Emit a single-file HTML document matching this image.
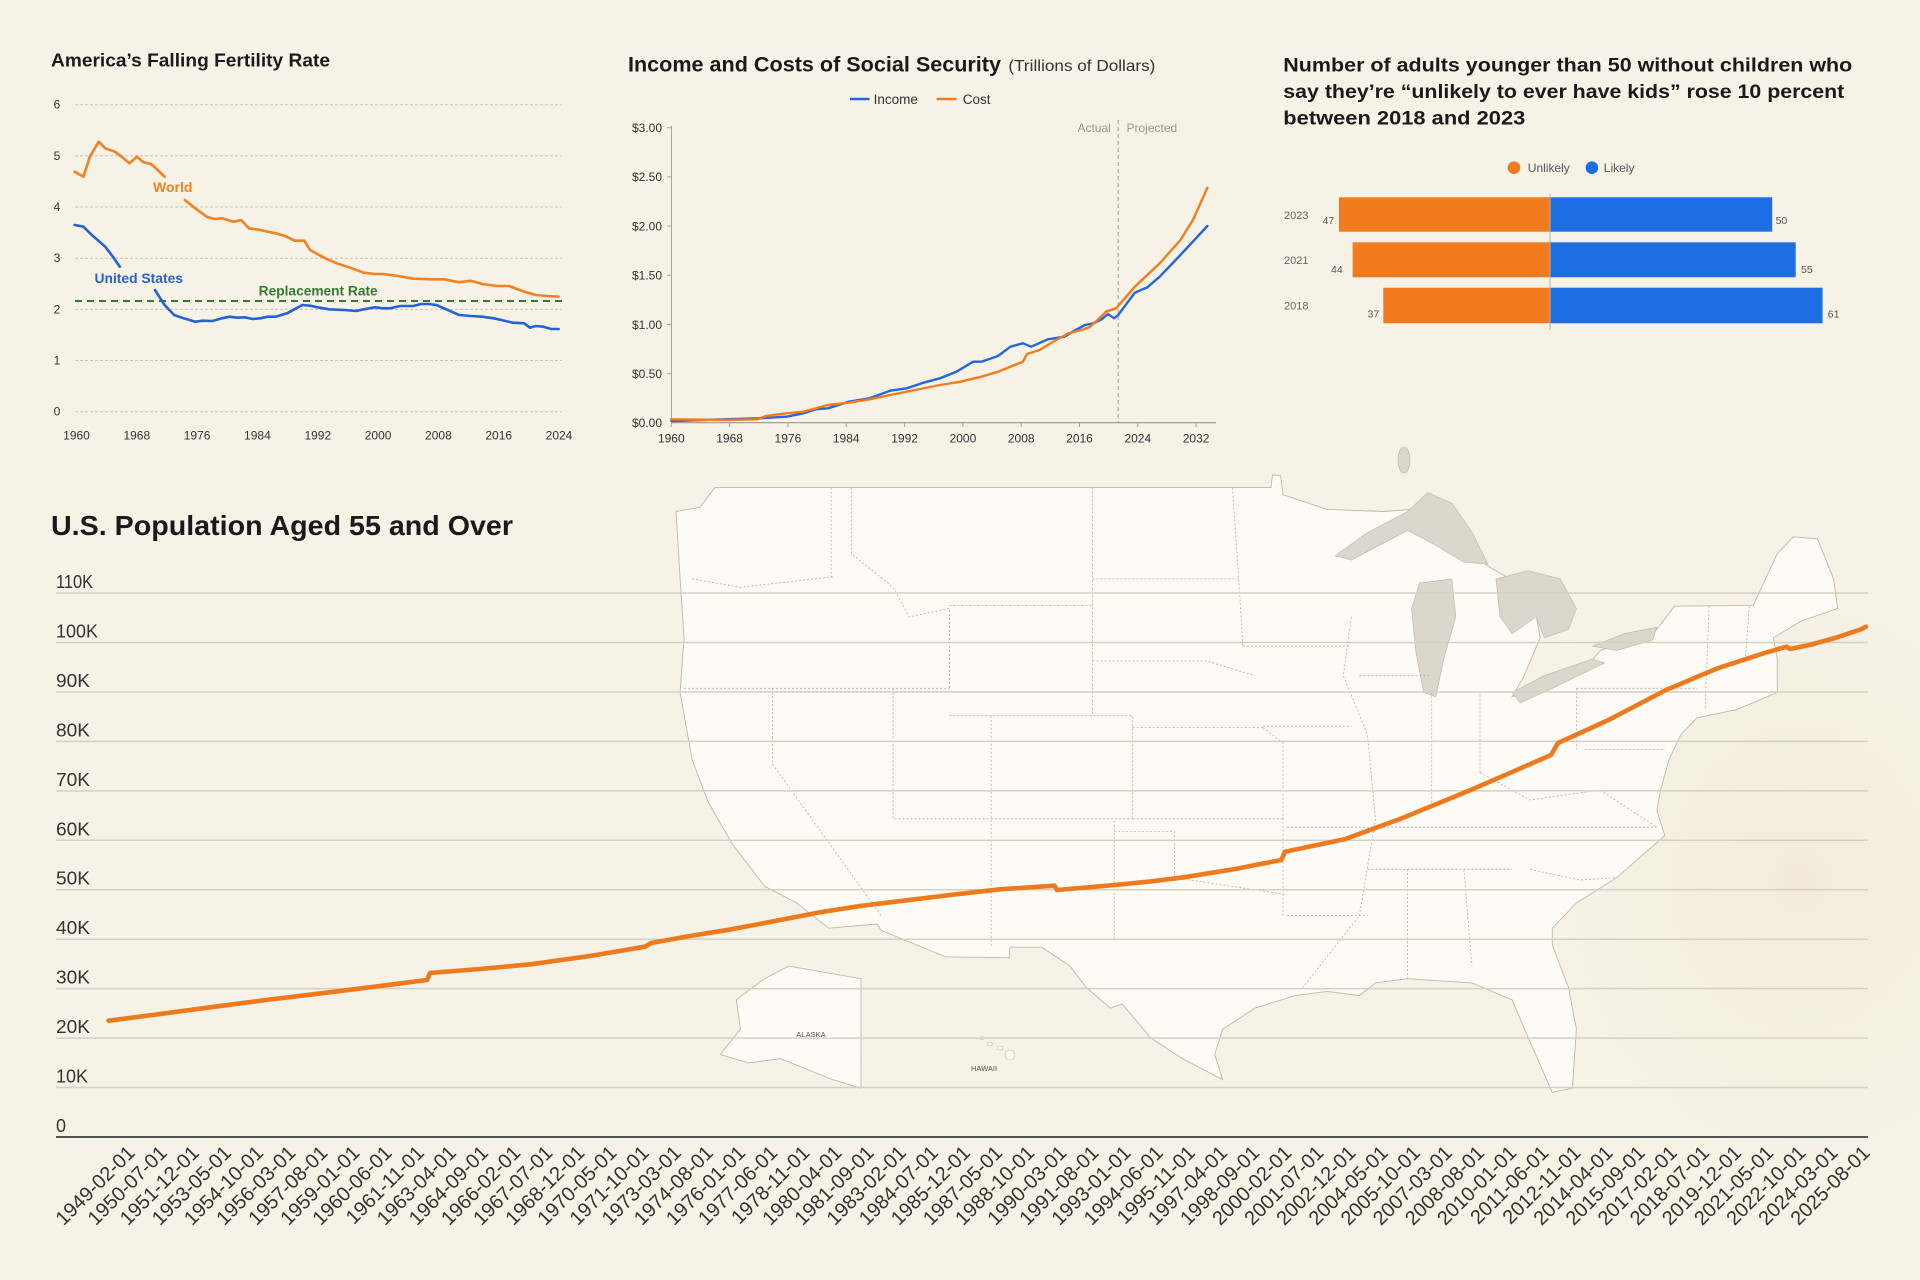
<!DOCTYPE html>
<html>
<head>
<meta charset="utf-8">
<style>
html,body{margin:0;padding:0;background:#f7f2e6;}
body{width:1920px;height:1280px;overflow:hidden;}
svg{display:block;}
text{font-family:"Liberation Sans",Arial,sans-serif;}
</style>
</head>
<body>
<svg width="1920" height="1280" viewBox="0 0 1920 1280" xmlns="http://www.w3.org/2000/svg">
<defs>
<radialGradient id="eastg" cx="0.5" cy="0.5" r="0.5">
<stop offset="0" stop-color="#f1e7d4" stop-opacity="0.7"/>
<stop offset="1" stop-color="#f7f2e6" stop-opacity="0"/>
</radialGradient>
</defs>
<rect x="0" y="0" width="1920" height="1280" fill="#f7f2e6"/>

<!-- ============ CHART 1: Fertility ============ -->
<text x="51" y="66.5" font-size="18.5" font-weight="bold" fill="#1a1a1a" textLength="279" lengthAdjust="spacingAndGlyphs">America’s Falling Fertility Rate</text>
<g stroke="#c9c3b6" stroke-width="1" stroke-dasharray="3,2">
<line x1="75" y1="104.7" x2="562" y2="104.7"/>
<line x1="75" y1="155.9" x2="562" y2="155.9"/>
<line x1="75" y1="207" x2="562" y2="207"/>
<line x1="75" y1="258.2" x2="562" y2="258.2"/>
<line x1="75" y1="309.4" x2="562" y2="309.4"/>
<line x1="75" y1="360.5" x2="562" y2="360.5"/>
<line x1="75" y1="411.7" x2="562" y2="411.7"/>
</g>
<g font-size="12" fill="#333" text-anchor="middle">
<text x="57" y="108.7">6</text>
<text x="57" y="159.9">5</text>
<text x="57" y="211">4</text>
<text x="57" y="262.2">3</text>
<text x="57" y="313.4">2</text>
<text x="57" y="364.5">1</text>
<text x="57" y="415.7">0</text>
<text x="76.5" y="439.5">1960</text>
<text x="136.8" y="439.5">1968</text>
<text x="197.1" y="439.5">1976</text>
<text x="257.4" y="439.5">1984</text>
<text x="317.8" y="439.5">1992</text>
<text x="378.1" y="439.5">2000</text>
<text x="438.4" y="439.5">2008</text>
<text x="498.7" y="439.5">2016</text>
<text x="559" y="439.5">2024</text>
</g>
<line x1="75" y1="301" x2="562" y2="301" stroke="#2e7d32" stroke-width="2" stroke-dasharray="7,5"/>
<g fill="none" stroke-width="2.6" stroke-linejoin="round" stroke-linecap="round">
<polyline stroke="#f08124" points="74.6,171.7 83.4,176.7 89.9,156.7 98.7,141.7 105.2,148.3 114.8,151.7 121.7,156.7 129.4,163.3 137,156.7 143.5,162.3 151.2,164 164.6,176.7"/>
<polyline stroke="#f08124" points="184.8,200 195.2,208.3 206.7,216.7 214.3,219 222,218.3 233.4,221.7 241.1,220 248.8,228.3 260.2,230 275.5,233.3 285.1,236 294.7,240.7 304.3,240.7 310,250 325.3,258.3 336.8,263.3 352.1,268.3 363.6,272.7 375,274 382.7,274 398,276 413.3,278.7 432.5,279.3 444,279.3 459.3,282.3 470.7,280.7 482.2,284 489.9,285 497.5,286 509,286 524.3,291.7 535.8,295 547.3,296 558.7,296.7"/>
<polyline stroke="#2463d4" points="74.6,225 83.4,226.7 91.8,235 99.5,241.7 105.2,246.7 112.9,256.7 119.8,266.7"/>
<polyline stroke="#2463d4" points="155,290 164.6,305 174.1,315 183.7,318.3 195.2,321.7 202.8,320.7 212.4,321 222,318.3 229.6,316.7 237.3,317.7 244.9,317.3 252.6,319 260.2,318.3 267.9,316.7 275.5,316.7 287,313.3 302.3,305 310,305.7 317.6,307.3 329.1,309.3 344.4,310 355.9,311 363.6,309.3 375,307.3 382.7,308.3 390.3,308.3 399.9,306 413.3,306 420.9,304 428.6,304 436.3,305 451.6,311.7 459.3,315 470.7,316 482.2,316.7 493.7,318.3 501.3,320 512.8,322.7 524.3,323.3 530,327.7 535.8,326 543.4,326.7 551.1,329 558.7,329"/>
</g>
<text x="153" y="192" font-size="14" font-weight="bold" fill="#f08124">World</text>
<text x="94.5" y="283" font-size="14" font-weight="bold" fill="#2463d4" textLength="88.5" lengthAdjust="spacingAndGlyphs">United States</text>
<text x="258.7" y="295.5" font-size="13.5" font-weight="bold" fill="#2e7d32" textLength="119" lengthAdjust="spacingAndGlyphs">Replacement Rate</text>

<!-- ============ CHART 2: Social Security ============ -->
<text x="628" y="71.5" font-size="21.5" font-weight="bold" fill="#1a1a1a" textLength="373" lengthAdjust="spacingAndGlyphs">Income and Costs of Social Security</text>
<text x="1008.4" y="71" font-size="16" fill="#333" textLength="147" lengthAdjust="spacingAndGlyphs">(Trillions of Dollars)</text>
<line x1="850" y1="99" x2="869.5" y2="99" stroke="#2567db" stroke-width="2.5"/>
<text x="873.6" y="104" font-size="13.5" fill="#333">Income</text>
<line x1="936.6" y1="99" x2="956.5" y2="99" stroke="#f07d1e" stroke-width="2.5"/>
<text x="962.8" y="104" font-size="13.5" fill="#333">Cost</text>

<line x1="671.5" y1="126" x2="671.5" y2="423" stroke="#aaa59a" stroke-width="1"/>
<line x1="671.5" y1="422.7" x2="1216" y2="422.7" stroke="#9a958b" stroke-width="1.2"/>
<g stroke="#aaa59a" stroke-width="1">
<line x1="667" y1="127.7" x2="671.5" y2="127.7"/>
<line x1="667" y1="176.9" x2="671.5" y2="176.9"/>
<line x1="667" y1="226.1" x2="671.5" y2="226.1"/>
<line x1="667" y1="275.3" x2="671.5" y2="275.3"/>
<line x1="667" y1="324.5" x2="671.5" y2="324.5"/>
<line x1="667" y1="373.7" x2="671.5" y2="373.7"/>
<line x1="671.3" y1="423" x2="671.3" y2="427"/>
<line x1="729.6" y1="423" x2="729.6" y2="427"/>
<line x1="787.9" y1="423" x2="787.9" y2="427"/>
<line x1="846.2" y1="423" x2="846.2" y2="427"/>
<line x1="904.6" y1="423" x2="904.6" y2="427"/>
<line x1="962.9" y1="423" x2="962.9" y2="427"/>
<line x1="1021.2" y1="423" x2="1021.2" y2="427"/>
<line x1="1079.5" y1="423" x2="1079.5" y2="427"/>
<line x1="1137.8" y1="423" x2="1137.8" y2="427"/>
<line x1="1196.1" y1="423" x2="1196.1" y2="427"/>
</g>
<g font-size="12" fill="#333" text-anchor="end">
<text x="662" y="132">$3.00</text>
<text x="662" y="181.2">$2.50</text>
<text x="662" y="230.4">$2.00</text>
<text x="662" y="279.6">$1.50</text>
<text x="662" y="328.8">$1.00</text>
<text x="662" y="378">$0.50</text>
<text x="662" y="427">$0.00</text>
</g>
<g font-size="12" fill="#333" text-anchor="middle">
<text x="671.3" y="442.5">1960</text>
<text x="729.6" y="442.5">1968</text>
<text x="787.9" y="442.5">1976</text>
<text x="846.2" y="442.5">1984</text>
<text x="904.6" y="442.5">1992</text>
<text x="962.9" y="442.5">2000</text>
<text x="1021.2" y="442.5">2008</text>
<text x="1079.5" y="442.5">2016</text>
<text x="1137.8" y="442.5">2024</text>
<text x="1196.1" y="442.5">2032</text>
</g>
<line x1="1118.2" y1="120" x2="1118.2" y2="423" stroke="#9f9a90" stroke-width="1" stroke-dasharray="4,3"/>
<text x="1110.8" y="132" font-size="12" fill="#9a968e" text-anchor="end">Actual</text>
<text x="1126.5" y="132" font-size="12" fill="#9a968e">Projected</text>
<g fill="none" stroke-width="2.4" stroke-linejoin="round" stroke-linecap="round">
<polyline stroke="#2567db" points="671.3,421 724.4,419.3 757.5,418.3 786.6,416.7 803.2,413.3 815.6,409.3 828,408.3 848.8,401.7 869.5,398.3 890.2,390.7 906.8,388.3 923.4,382.7 940,378.3 956.5,371.7 973.1,361.7 981.4,361.7 998,356 1010.4,346.7 1022.9,343.3 1031.2,346.7 1047.8,339.3 1064.3,336.7 1076.8,329.3 1085.1,325 1093.4,323.3 1101.7,319.3 1107.9,314 1114.1,318.3 1118.2,315 1134.8,292.7 1147.3,287.3 1159.7,276.7 1180.4,255 1207.4,226"/>
<polyline stroke="#f07d1e" points="671.3,419.3 724.4,420 757.5,419.3 765.8,416 786.6,413.3 803.2,411.7 828,405 848.8,402.7 869.5,399.3 890.2,395 915.1,390 940,385 960.7,381.7 981.4,376.7 998,371.7 1014.6,365 1022.9,361.7 1027,354 1039.5,350 1056.1,340 1068.5,333.3 1081,330 1089.3,327.3 1097.6,320 1105.9,311.7 1116.2,308.3 1134.8,286.7 1159.7,263.3 1180.4,240 1192.9,220 1207.4,187.7"/>
</g>

<!-- ============ CHART 3: Bars ============ -->
<g font-size="19" font-weight="bold" fill="#1a1a1a">
<text x="1283.3" y="71.5" textLength="569" lengthAdjust="spacingAndGlyphs">Number of adults younger than 50 without children who</text>
<text x="1283.3" y="98" textLength="561" lengthAdjust="spacingAndGlyphs">say they’re “unlikely to ever have kids” rose 10 percent</text>
<text x="1283.3" y="124.5" textLength="242" lengthAdjust="spacingAndGlyphs">between 2018 and 2023</text>
</g>
<circle cx="1514" cy="167.7" r="6.3" fill="#f27b1f"/>
<text x="1527.8" y="172" font-size="12" fill="#555">Unlikely</text>
<circle cx="1591.9" cy="167.7" r="6.3" fill="#1b6fe3"/>
<text x="1603.8" y="172" font-size="12" fill="#555">Likely</text>
<rect x="1338.9" y="197.3" width="211.1" height="34.4" fill="#f27b1f"/>
<rect x="1550" y="197.3" width="222.2" height="34.4" fill="#1b6fe3"/>
<rect x="1352.6" y="242.3" width="197.4" height="35" fill="#f27b1f"/>
<rect x="1550" y="242.3" width="245.7" height="35" fill="#1b6fe3"/>
<rect x="1383.3" y="287.7" width="166.7" height="35.6" fill="#f27b1f"/>
<rect x="1550" y="287.7" width="272.6" height="35.6" fill="#1b6fe3"/>
<line x1="1550" y1="194" x2="1550" y2="330" stroke="#b5b0a6" stroke-width="1"/>
<g font-size="11" fill="#666">
<text x="1284" y="219">2023</text>
<text x="1284" y="264">2021</text>
<text x="1284" y="309.5">2018</text>
</g>
<g font-size="10.5" fill="#555">
<text x="1322.6" y="224">47</text>
<text x="1775.6" y="224">50</text>
<text x="1331" y="273">44</text>
<text x="1801" y="273">55</text>
<text x="1367.5" y="317.5">37</text>
<text x="1827.8" y="317.5">61</text>
</g>

<!-- ============ BOTTOM: Map background ============ -->
<ellipse cx="1800" cy="880" rx="320" ry="380" fill="url(#eastg)"/>
<polygon fill="#fdfbf6" stroke="#bdb8ad" stroke-width="0.9" points="714.7,487.6 1270.9,487.6 1272.5,474.9 1280.6,475.8 1283,494.7 1327.2,509.4 1383.5,511.5 1411.6,509.4 1488,566.3 1532.2,591.5 1540.2,637.8 1524.1,675.7 1512.1,696.7 1584.4,669.4 1600.5,650.4 1656.8,629.4 1674.5,606.2 1753.2,605.4 1777.3,553.6 1793.4,536.8 1817.5,538.9 1833.6,578.9 1837.6,608.4 1801.5,621 1773.3,637.8 1777.3,658.9 1777.3,692.5 1737.2,709.4 1697,717.8 1680.9,734.6 1668.9,759.9 1660.8,789.3 1656.8,810.4 1664.8,835.6 1616.6,877.7 1576.4,903 1552.3,928.2 1552.3,945.1 1568.4,987.1 1576.4,1029.2 1572.4,1088.1 1552.3,1092.4 1528.2,1037.6 1512.1,999.8 1471.9,982.9 1407.6,978.7 1375.4,982.9 1359.3,995.6 1327.2,991.4 1295,995.6 1254.9,1008.2 1222.7,1029.2 1214.7,1054.5 1222.7,1079.7 1182.5,1058.7 1150.4,1037.6 1122.2,1004 1110.2,1008.2 1086,987.1 1070,966 1041.8,947.2 1009.7,947.2 1009.7,957.7 945.4,956.8 881.1,930.3 877,924 828.8,928.2 796.7,903 764.5,886.1 732.3,844 708.2,802 692.2,759.9 680.1,692.5 684.1,637.8 680.1,578.9 676.1,511.5 700.2,507.3"/>
<g fill="#dcd7cd" stroke="#b9b4a9" stroke-width="0.6">
<polygon points="1335.2,555.7 1367.4,532.6 1407.6,511.5 1427.7,492.6 1451.8,503.1 1471.9,532 1488,564.2 1463.8,562.1 1435.7,545.2 1407.6,530.5 1379.5,545.2 1351.3,560"/>
<polygon points="1419.6,583.1 1451.8,578.9 1455.8,616.8 1443.8,658.9 1435.7,696.7 1423.7,692.5 1415.6,650.4 1411.6,608.4"/>
<polygon points="1496,578.9 1528.2,570.5 1560.3,578.9 1576.4,608.4 1568.4,629.4 1544.2,637.8 1536.2,616.8 1512.1,633.6 1500,616.8"/>
<polygon points="1512.1,692.5 1544.2,675.7 1592.5,658.9 1604.5,663.1 1552.3,688.3 1520.1,703"/>
<polygon points="1592.5,646.2 1624.6,633.6 1656.8,627.3 1652.8,639.9 1616.6,650.4"/>
<ellipse cx="1404" cy="460" rx="6" ry="13"/>
</g>
<polygon fill="#fdfbf6" stroke="#bdb8ad" stroke-width="0.9" points="788.6,966.1 861,978.7 861,1088.1 832.8,1079.7 780.6,1058.7 748.4,1062.9 720.3,1054.5 740.4,1029.2 736.4,999.8 764.5,978.7"/>
<g fill="#fdfbf6" stroke="#bdb8ad" stroke-width="0.6">
<ellipse cx="982" cy="1038" rx="2" ry="1.5"/>
<ellipse cx="990" cy="1044" rx="3" ry="2"/>
<ellipse cx="1000" cy="1048" rx="3" ry="2"/>
<ellipse cx="1010" cy="1055" rx="5" ry="5"/>
</g>
<text x="811" y="1037" font-size="7.5" fill="#555" text-anchor="middle">ALASKA</text>
<text x="984" y="1071" font-size="7.5" fill="#555" text-anchor="middle">HAWAII</text>
<g fill="none" stroke="#9c978d" stroke-width="0.8" stroke-dasharray="2,2" opacity="0.75">
<polyline points="831.2,487.6 831.2,576.8"/>
<polyline points="851.3,487.6 851.3,553.6 893.1,587.3 909.2,616.8 949.4,608.4 949.4,688.3"/>
<polyline points="1092.5,487.6 1092.5,715.7"/>
<polyline points="1232.4,487.6 1238.8,578.9 1242.8,646.2"/>
<polyline points="1092.5,578.9 1238.8,578.9"/>
<polyline points="1092.5,661 1206.7,661 1254.9,675.7"/>
<polyline points="949.4,605.4 1092.5,605.4"/>
<polyline points="949.4,715.7 1132.7,715.7 1132.7,818.8"/>
<polyline points="1132.7,727.5 1262.9,727.5"/>
<polyline points="1132.7,818.8 1283,818.8"/>
<polyline points="991.2,818.8 1132.7,818.8"/>
<polyline points="893.1,688.3 893.1,818.8 991.2,818.8"/>
<polyline points="991.2,715.7 991.2,947.2"/>
<polyline points="684.1,688.3 949.4,688.3"/>
<polyline points="772.5,688.3 772.5,764.1 881.1,915.6"/>
<polyline points="692.2,578.9 740.4,587.3 832.8,576.8"/>
<polyline points="1114.2,820.9 1114.2,940.9"/>
<polyline points="1114.2,831.4 1174.5,831.4 1174.5,877.7 1287,894.6"/>
<polyline points="1262.9,727.5 1283,743 1283,915.6"/>
<polyline points="1262.9,726.2 1351.3,726.2"/>
<polyline points="1242.8,646.2 1351.3,646.2"/>
<polyline points="1351.3,616.8 1343.3,675.7 1367.4,734.6 1375.5,818.8 1359.4,915.6 1303.1,987.2"/>
<polyline points="1287,827.2 1656.8,827.2"/>
<polyline points="1367.4,869.3 1512.1,869.3"/>
<polyline points="1407.6,869.3 1407.6,978.7"/>
<polyline points="1463.9,869.3 1471.9,966.1"/>
<polyline points="1287,915.6 1367.4,915.6"/>
<polyline points="1431.7,692.5 1431.7,806.2"/>
<polyline points="1480,694.6 1480,772.5"/>
<polyline points="1576.4,688.3 1697,688.3"/>
<polyline points="1584.5,749.4 1664.9,749.4"/>
<polyline points="1576.4,688.3 1576.4,749.4"/>
<polyline points="1359.4,675.7 1431.7,675.7"/>
<polyline points="1709.1,606.3 1705.1,709.4"/>
<polyline points="1749.3,606.3 1745.3,658.9"/>
<polyline points="1480,772.5 1530,800 1600,790 1656.8,827.2"/>
<polyline points="1530,869.3 1580,880 1616.6,877.7"/>
</g>

<!-- ============ BOTTOM CHART ============ -->
<text x="51" y="535" font-size="28" font-weight="bold" fill="#1a1a1a" textLength="462" lengthAdjust="spacingAndGlyphs">U.S. Population Aged 55 and Over</text>
<g stroke="#d6d0c3" stroke-width="1.5">
<line x1="56" y1="1087.55" x2="1868" y2="1087.55"/>
<line x1="56" y1="1038.1" x2="1868" y2="1038.1"/>
<line x1="56" y1="988.65" x2="1868" y2="988.65"/>
<line x1="56" y1="939.2" x2="1868" y2="939.2"/>
<line x1="56" y1="889.75" x2="1868" y2="889.75"/>
<line x1="56" y1="840.3" x2="1868" y2="840.3"/>
<line x1="56" y1="790.85" x2="1868" y2="790.85"/>
<line x1="56" y1="741.4" x2="1868" y2="741.4"/>
<line x1="56" y1="691.95" x2="1868" y2="691.95"/>
<line x1="56" y1="642.5" x2="1868" y2="642.5"/>
<line x1="56" y1="593.05" x2="1868" y2="593.05"/>
</g>
<line x1="56" y1="1137" x2="1868" y2="1137" stroke="#555" stroke-width="2"/>
<g font-size="18" fill="#333">
<text x="56" y="1132">0</text>
<text x="56" y="1082.5" textLength="32" lengthAdjust="spacingAndGlyphs">10K</text>
<text x="56" y="1033.1" textLength="34" lengthAdjust="spacingAndGlyphs">20K</text>
<text x="56" y="983.6" textLength="34" lengthAdjust="spacingAndGlyphs">30K</text>
<text x="56" y="934.2" textLength="34" lengthAdjust="spacingAndGlyphs">40K</text>
<text x="56" y="884.7" textLength="34" lengthAdjust="spacingAndGlyphs">50K</text>
<text x="56" y="835.3" textLength="34" lengthAdjust="spacingAndGlyphs">60K</text>
<text x="56" y="785.8" textLength="34" lengthAdjust="spacingAndGlyphs">70K</text>
<text x="56" y="736.4" textLength="34" lengthAdjust="spacingAndGlyphs">80K</text>
<text x="56" y="686.9" textLength="34" lengthAdjust="spacingAndGlyphs">90K</text>
<text x="56" y="637.5" textLength="42" lengthAdjust="spacingAndGlyphs">100K</text>
<text x="56" y="588" textLength="37" lengthAdjust="spacingAndGlyphs">110K</text>
</g>
<polyline fill="none" stroke="#ef7a1d" stroke-width="4.6" stroke-linejoin="round" stroke-linecap="round" points="108.6,1020.7 160,1014 214.8,1006.7 270,999.5 329.6,992.3 380,986 427,980 430,973 480,969 530.5,964.3 590,956 645,946.7 651,943 690,936 731.5,929.3 775,921 817.6,912.7 860,906 903.7,900.7 950,895 1000,889.3 1054.5,885.7 1057,890 1114.8,885 1150,881.5 1183.7,877.3 1235,869 1281.3,860 1285,851.7 1344.4,839.3 1401.8,818.3 1470.7,790 1551,755 1558,743 1608.5,720 1666,690 1717.6,668.3 1763.5,653.3 1786.5,646.7 1790,649 1809.4,645 1835,638 1861,629.3 1866,626.7"/>
<g font-size="20" fill="#333" text-anchor="end">
<text transform="translate(136,1154) rotate(-45)">1949-02-01</text>
<text transform="translate(168.1,1154) rotate(-45)">1950-07-01</text>
<text transform="translate(200.3,1154) rotate(-45)">1951-12-01</text>
<text transform="translate(232.4,1154) rotate(-45)">1953-05-01</text>
<text transform="translate(264.5,1154) rotate(-45)">1954-10-01</text>
<text transform="translate(296.7,1154) rotate(-45)">1956-03-01</text>
<text transform="translate(328.8,1154) rotate(-45)">1957-08-01</text>
<text transform="translate(360.9,1154) rotate(-45)">1959-01-01</text>
<text transform="translate(393,1154) rotate(-45)">1960-06-01</text>
<text transform="translate(425.2,1154) rotate(-45)">1961-11-01</text>
<text transform="translate(457.3,1154) rotate(-45)">1963-04-01</text>
<text transform="translate(489.4,1154) rotate(-45)">1964-09-01</text>
<text transform="translate(521.6,1154) rotate(-45)">1966-02-01</text>
<text transform="translate(553.7,1154) rotate(-45)">1967-07-01</text>
<text transform="translate(585.8,1154) rotate(-45)">1968-12-01</text>
<text transform="translate(617.9,1154) rotate(-45)">1970-05-01</text>
<text transform="translate(650.1,1154) rotate(-45)">1971-10-01</text>
<text transform="translate(682.2,1154) rotate(-45)">1973-03-01</text>
<text transform="translate(714.3,1154) rotate(-45)">1974-08-01</text>
<text transform="translate(746.5,1154) rotate(-45)">1976-01-01</text>
<text transform="translate(778.6,1154) rotate(-45)">1977-06-01</text>
<text transform="translate(810.7,1154) rotate(-45)">1978-11-01</text>
<text transform="translate(842.9,1154) rotate(-45)">1980-04-01</text>
<text transform="translate(875,1154) rotate(-45)">1981-09-01</text>
<text transform="translate(907.1,1154) rotate(-45)">1983-02-01</text>
<text transform="translate(939.3,1154) rotate(-45)">1984-07-01</text>
<text transform="translate(971.4,1154) rotate(-45)">1985-12-01</text>
<text transform="translate(1003.5,1154) rotate(-45)">1987-05-01</text>
<text transform="translate(1035.6,1154) rotate(-45)">1988-10-01</text>
<text transform="translate(1067.8,1154) rotate(-45)">1990-03-01</text>
<text transform="translate(1099.9,1154) rotate(-45)">1991-08-01</text>
<text transform="translate(1132,1154) rotate(-45)">1993-01-01</text>
<text transform="translate(1164.2,1154) rotate(-45)">1994-06-01</text>
<text transform="translate(1196.3,1154) rotate(-45)">1995-11-01</text>
<text transform="translate(1228.4,1154) rotate(-45)">1997-04-01</text>
<text transform="translate(1260.6,1154) rotate(-45)">1998-09-01</text>
<text transform="translate(1292.7,1154) rotate(-45)">2000-02-01</text>
<text transform="translate(1324.8,1154) rotate(-45)">2001-07-01</text>
<text transform="translate(1356.9,1154) rotate(-45)">2002-12-01</text>
<text transform="translate(1389.1,1154) rotate(-45)">2004-05-01</text>
<text transform="translate(1421.2,1154) rotate(-45)">2005-10-01</text>
<text transform="translate(1453.3,1154) rotate(-45)">2007-03-01</text>
<text transform="translate(1485.5,1154) rotate(-45)">2008-08-01</text>
<text transform="translate(1517.6,1154) rotate(-45)">2010-01-01</text>
<text transform="translate(1549.7,1154) rotate(-45)">2011-06-01</text>
<text transform="translate(1581.9,1154) rotate(-45)">2012-11-01</text>
<text transform="translate(1614,1154) rotate(-45)">2014-04-01</text>
<text transform="translate(1646.1,1154) rotate(-45)">2015-09-01</text>
<text transform="translate(1678.2,1154) rotate(-45)">2017-02-01</text>
<text transform="translate(1710.4,1154) rotate(-45)">2018-07-01</text>
<text transform="translate(1742.5,1154) rotate(-45)">2019-12-01</text>
<text transform="translate(1774.6,1154) rotate(-45)">2021-05-01</text>
<text transform="translate(1806.8,1154) rotate(-45)">2022-10-01</text>
<text transform="translate(1838.9,1154) rotate(-45)">2024-03-01</text>
<text transform="translate(1871,1154) rotate(-45)">2025-08-01</text>
</g>
</svg>
</body>
</html>
